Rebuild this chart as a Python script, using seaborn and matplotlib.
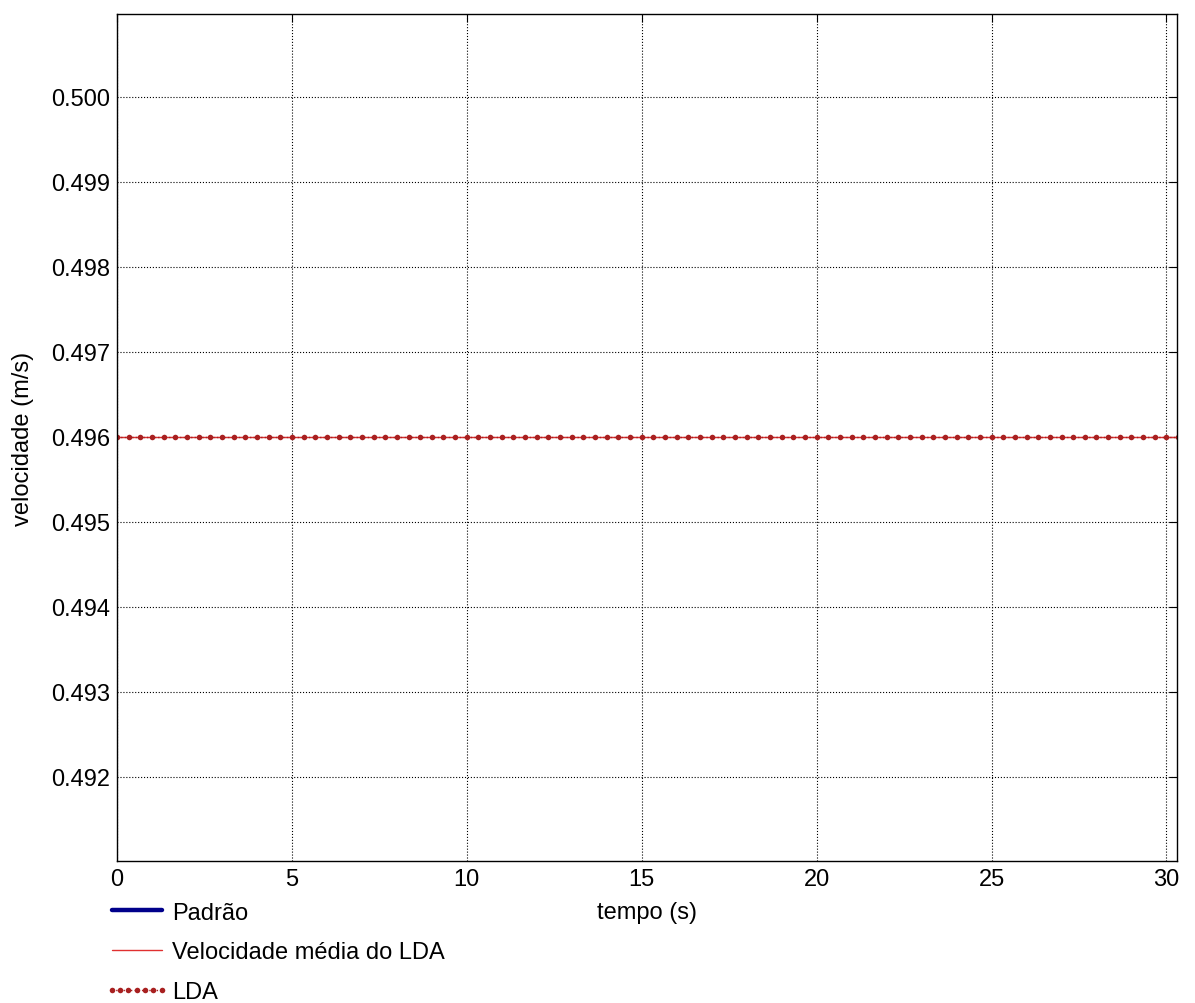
"""
Velocidade medida pelo LDA vs. padrão (recriação do gráfico).
"""

import numpy as np
import pandas as pd
import matplotlib
matplotlib.use("Agg")
import matplotlib.pyplot as plt
import seaborn as sns
from matplotlib.lines import Line2D
from matplotlib.legend_handler import HandlerLine2D

# Dados
tempo = np.arange(0, 30.4, 1 / 3)          # amostras do LDA (s)
lda_velocidade = [0.496] * len(tempo)      # medição constante (m/s)
media_lda = [0.496] * len(tempo)           # velocidade média do LDA (m/s)
padrao_tempo = []                          # curva padrão fora da janela visível
padrao_velocidade = []

x_ticks = [0, 5, 10, 15, 20, 25, 30]
y_ticks = [0.492, 0.493, 0.494, 0.495, 0.496, 0.497, 0.498, 0.499, 0.500]

df = pd.DataFrame({"tempo": tempo, "lda": lda_velocidade, "media": media_lda})

sns.set_style("white")
plt.rcParams["font.family"] = ["Liberation Sans", "DejaVu Sans"]
plt.rcParams["text.color"] = "black"
plt.rcParams["axes.labelcolor"] = "black"

fig = plt.figure(figsize=(11.95, 10.04), dpi=100)
ax = fig.add_axes([0.0979, 0.1414, 0.887, 0.8436])

# Padrão (legenda apenas)
ax.plot(padrao_tempo, padrao_velocidade, color="#00008b", linewidth=3.2, label="Padrão")

sns.lineplot(data=df, x="tempo", y="media", ax=ax, color="#e03030",
             linewidth=1.0, label="Velocidade média do LDA")
sns.lineplot(data=df, x="tempo", y="lda", ax=ax, color="#a82020",
             linestyle=":", linewidth=1.0, marker="o", markersize=4,
             markeredgewidth=0, label="LDA")

ax.set_xlim(0, 30.3)
ax.set_ylim(0.49101, 0.50097)
ax.set_xticks(x_ticks)
ax.set_xticklabels([str(t) for t in x_ticks])
ax.set_yticks(y_ticks)
ax.set_yticklabels([f"{v:.3f}" for v in y_ticks])

ax.grid(True, color="black", linestyle=":", linewidth=0.8)
ax.tick_params(axis="both", direction="in", length=6, width=0.8,
               top=True, right=True, labelsize=17, pad=5, colors="black")
for sp in ax.spines.values():
    sp.set_color("black")
    sp.set_linewidth(1.0)

ax.set_xlabel("tempo (s)", fontsize=17, labelpad=8)
ax.set_ylabel("velocidade (m/s)", fontsize=17, labelpad=12)

ax.legend(loc="upper left", bbox_to_anchor=(0.0937, 0.101),
          bbox_transform=fig.transFigure, frameon=False, fontsize=17,
          borderpad=0, borderaxespad=0, handlelength=2.1, handletextpad=0.45,
          labelspacing=0.75, numpoints=7,
          handler_map={Line2D: HandlerLine2D(marker_pad=0)})

fig.savefig("out.png", dpi=100)
